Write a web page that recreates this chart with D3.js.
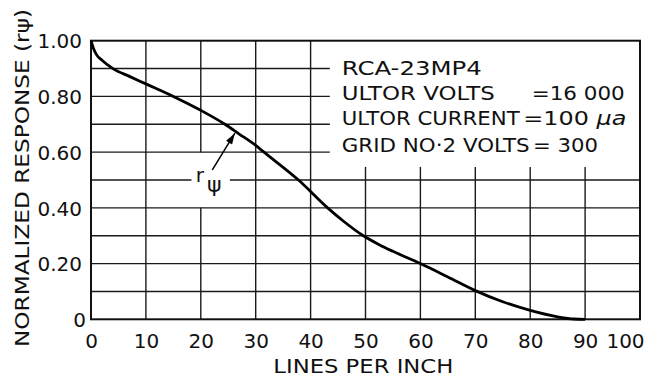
<!DOCTYPE html>
<html><head><meta charset="utf-8">
<script src="https://cdn.jsdelivr.net/npm/d3@7"></script>
<style>
html,body{margin:0;padding:0;background:#fff;}
svg{display:block;}
text{font-family:"DejaVu Sans",sans-serif;fill:#111;}
</style></head>
<body>
<svg id="chart" width="647" height="379"></svg>
<script>
// ---- data ----
const lpi = [0,0.4,1,2,4,7,10,15,20,24.4,27,30,31.5,37.8,43.1,46,49.6,52.5,55,60,65,70,75,80,85,88,90];
const response = [1.0,0.975,0.95,0.93,0.90,0.872,0.845,0.80,0.75,0.70,0.665,0.624,0.60,0.50,0.40,0.352,0.30,0.268,0.244,0.20,0.152,0.103,0.063,0.032,0.009,0.001,0];
const xTicks = [0,10,20,30,40,50,60,70,80,90,100];
const yTicks = [0,0.2,0.4,0.6,0.8,1.0];
const yGrid = [0.1,0.2,0.3,0.4,0.5,0.6,0.7,0.8,0.9];
const xLabel = "LINES PER INCH";
const yLabel = "NORMALIZED RESPONSE (rψ)";
const legendNames = ["RCA-23MP4","ULTOR VOLTS","ULTOR CURRENT","GRID NO·2 VOLTS"];
const legendValues = ["","=16 000","=100 ","= 300"];
// annotation (data units)
const boxCorner = [43.5, 0.547];     // legend box lower-left
const labelGap = [18.3, 25.3];       // gap in 0.5 gridline for label
const xGap20 = [0.4, 0.6];           // gap in x=20 gridline
const arrowTail = [22.1, 0.536];
const arrowTip = [26.2, 0.668];
const labelPos = [19.1, 0.493];

// ---- layout ----
const svg = d3.select("#chart");
const x = d3.scaleLinear().domain([0,100]).range([91,640]);
const y = d3.scaleLinear().domain([0,1]).range([319.3,40.7]);

const grid = svg.append("g").attr("stroke","#1a1a1a").attr("stroke-width",1.4).attr("fill","none");
yGrid.forEach(v=>{
  let segs;
  if (v >= boxCorner[1]) segs = [[0, boxCorner[0]]];
  else if (v === 0.5) segs = [[0,labelGap[0]],[labelGap[1],100]];
  else segs = [[0,100]];
  segs.forEach(s=>grid.append("line").attr("x1",x(s[0])).attr("x2",x(s[1])).attr("y1",y(v)).attr("y2",y(v)));
});
xTicks.slice(1,-1).forEach(v=>{
  let segs;
  if (v > boxCorner[0]) segs = [[0, boxCorner[1]]];
  else if (v === 20) segs = [[0,xGap20[0]],[xGap20[1],1]];
  else segs = [[0,1]];
  segs.forEach(s=>grid.append("line").attr("x1",x(v)).attr("x2",x(v)).attr("y1",y(s[0])).attr("y2",y(s[1])));
});
svg.append("rect").attr("x",x(0)).attr("y",y(1)).attr("width",x(100)-x(0)).attr("height",y(0)-y(1))
  .attr("fill","none").attr("stroke","#111").attr("stroke-width",2);

// axes labels
const xa = svg.append("g").attr("transform",`translate(0,${y(0)})`)
  .call(d3.axisBottom(x).tickValues(xTicks).tickSize(0).tickFormat(d3.format("d")));
xa.select(".domain").remove();
xa.selectAll("text").attr("y",29).attr("dy",0).attr("font-size",20)
  .attr("font-family","DejaVu Sans").attr("fill","#111")
  .attr("dx",d=>d===100?-15:0);
const ya = svg.append("g").attr("transform",`translate(${x(0)},0)`)
  .call(d3.axisLeft(y).tickValues(yTicks).tickSize(0).tickPadding(9)
    .tickFormat(d=>d===0?"0":d.toFixed(2)));
ya.select(".domain").remove();
ya.selectAll("text").attr("font-size",20).attr("dy","0.36em")
  .attr("font-family","DejaVu Sans").attr("fill","#111")
  .attr("dx",d=>d===0?4:0);

svg.append("text").attr("x",(273.3+453.3)/2).attr("y",373.3).attr("text-anchor","middle")
  .attr("font-size",20).attr("textLength",180).attr("lengthAdjust","spacingAndGlyphs").text(xLabel);
svg.append("text").attr("transform","translate(28.5,178) rotate(-90)").attr("text-anchor","middle")
  .attr("font-size",20).attr("textLength",338).attr("lengthAdjust","spacingAndGlyphs").text(yLabel);

// curve
const line = d3.line().x((d,i)=>x(lpi[i])).y(d=>y(d)).curve(d3.curveMonotoneX);
svg.append("path").datum(response).attr("d",line).attr("fill","none")
  .attr("stroke","#000").attr("stroke-width",2.8).attr("stroke-linejoin","round");

// legend text
const legX = 341.7;
const legBase = [75,100,125,151.5];
const nameLen = [140,153,178,188];
const valX = [0,531.7,523.3,533];
const valLen = [0,93,103,65];
legendNames.forEach((n,i)=>{
  svg.append("text").attr("x",legX).attr("y",legBase[i]).attr("font-size",20)
    .attr("textLength",nameLen[i]).attr("lengthAdjust","spacingAndGlyphs").text(n);
  if (legendValues[i]) {
    const t = svg.append("text").attr("x",valX[i]).attr("y",legBase[i]).attr("font-size",20)
      .attr("textLength",valLen[i]).attr("lengthAdjust","spacingAndGlyphs");
    t.append("tspan").text(legendValues[i]);
    if (i===2) t.append("tspan").attr("font-style","italic").text("μa");
  }
});

// r psi annotation
const lbl = svg.append("text").attr("x",x(labelPos[0])).attr("y",y(labelPos[1])).attr("font-size",20);
lbl.append("tspan").text("r");
lbl.append("tspan").attr("dx",3).attr("dy",10).attr("font-size",22).text("ψ");

// arrow
const tx=x(arrowTail[0]), ty=y(arrowTail[1]), hx=x(arrowTip[0]), hy=y(arrowTip[1]);
svg.append("line").attr("x1",tx).attr("y1",ty).attr("x2",hx).attr("y2",hy)
  .attr("stroke","#000").attr("stroke-width",1.5);
const ang = Math.atan2(hy-ty,hx-tx), L=11, W=3.5;
const bx = hx - L*Math.cos(ang), by = hy - L*Math.sin(ang);
svg.append("path").attr("d",`M${hx},${hy}L${bx+W*Math.sin(ang)},${by-W*Math.cos(ang)}L${bx-W*Math.sin(ang)},${by+W*Math.cos(ang)}Z`)
  .attr("fill","#000");
</script>
</body></html>
